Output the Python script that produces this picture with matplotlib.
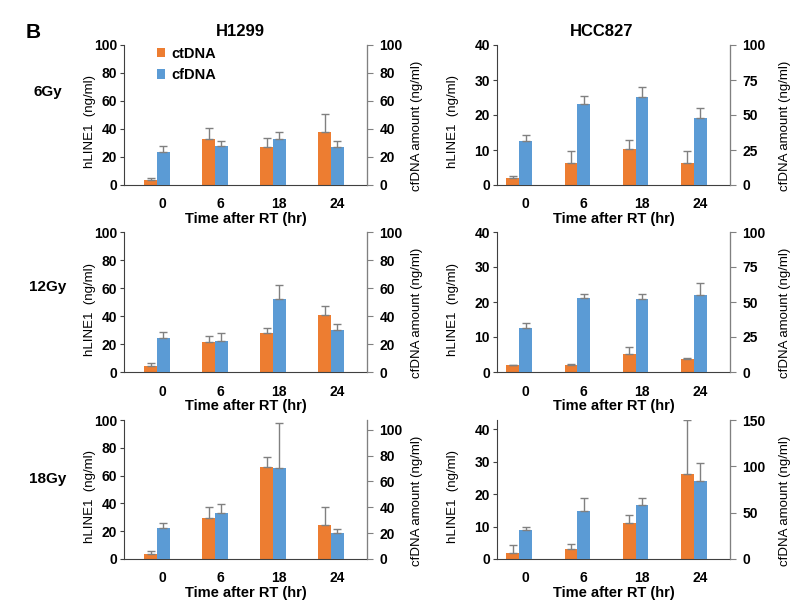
import matplotlib.pyplot as plt
import numpy as np

plt.rcParams['font.family'] = ['Liberation Sans', 'DejaVu Sans']

times = ['0', '6', '18', '24']
cells = ['H1299', 'HCC827']
doses = ['6Gy', '12Gy', '18Gy']

# ctDNA (hLINE1, left axis) and cfDNA (right axis)
h1299_ct = [[3.8, 32.9, 26.9, 37.6], [4.3, 21.4, 27.6, 40.4], [3.8, 29.3, 66.2, 24.5]]
h1299_ct_err = [[1.4, 7.8, 6.7, 13.4], [1.9, 4.0, 3.5, 6.9], [2.2, 8.3, 7.1, 13.1]]
h1299_cf = [[23.8, 28.1, 32.9, 26.9], [24.5, 22.3, 52.5, 29.7], [23.8, 35.7, 70.3, 20.2]]
h1299_cf_err = [[4.3, 3.1, 4.7, 4.3], [4.2, 5.3, 10.0, 4.3], [4.1, 6.9, 35.1, 3.1]]

hcc827_ct = [[2.0, 6.2, 10.2, 6.2], [2.0, 1.9, 5.2, 3.7], [2.0, 3.2, 11.0, 26.2]]
hcc827_ct_err = [[0.6, 3.5, 2.6, 3.4], [0.1, 0.5, 2.0, 0.2], [2.2, 1.5, 2.4, 16.5]]
hcc827_cf = [[31.4, 57.7, 62.7, 47.7], [31.7, 53.1, 51.9, 55.2], [31.8, 51.4, 58.6, 83.9]]
hcc827_cf_err = [[4.0, 6.2, 7.1, 7.2], [3.5, 2.4, 4.0, 8.1], [3.2, 14.0, 6.8, 19.3]]

# axis limits and ticks per panel: (left max, left step, right max, right step)
h1299_lims = [(100, 20, 100, 20), (100, 20, 100, 20), (100, 20, 107.5, 20)]
hcc827_lims = [(40, 10, 100, 25), (40, 10, 100, 25), (42.8, 10, 150, 50)]

orange = '#ED7D31'
blue = '#5B9BD5'
W, H = 808, 613

fig = plt.figure(figsize=(W / 100, H / 100), dpi=100)

# pixel boxes: columns (left, width, xlim) and rows (top, bottom)
cols = [(124, 243, (-0.57, 3.62)), (497, 233, (-0.38, 3.62))]
rows = [(45, 185), (232, 372), (420, 559)]

data = [(h1299_ct, h1299_ct_err, h1299_cf, h1299_cf_err, h1299_lims),
        (hcc827_ct, hcc827_ct_err, hcc827_cf, hcc827_cf_err, hcc827_lims)]

x = np.arange(len(times))
w = 0.22

for c, (x0, wd, xl) in enumerate(cols):
    ct, ct_err, cf, cf_err, lims = data[c]
    for r, (top, bot) in enumerate(rows):
        ax = fig.add_axes([x0 / W, (H - bot) / H, wd / W, (bot - top) / H])
        ax2 = ax.twinx()
        lmax, lstep, rmax, rstep = lims[r]

        b1 = ax.bar(x - w / 2, ct[r], w, color=orange, label='ctDNA',
                    yerr=[[0] * 4, ct_err[r]], ecolor='#808080',
                    error_kw=dict(lw=1, capsize=3, capthick=1))
        b2 = ax2.bar(x + w / 2, cf[r], w, color=blue, label='cfDNA',
                     yerr=[[0] * 4, cf_err[r]], ecolor='#808080',
                     error_kw=dict(lw=1, capsize=3, capthick=1))

        ax.set_xlim(*xl)
        ax.set_ylim(0, lmax)
        ax2.set_ylim(0, rmax)
        ax.set_yticks(np.arange(0, lmax + 0.1, lstep))
        ax2.set_yticks(np.arange(0, min(rmax, 150) + 0.1, rstep))
        ax.set_xticks(x + 0.1)
        ax.set_xticklabels(times)

        for a in (ax, ax2):
            a.spines['top'].set_visible(False)
            a.tick_params(labelsize=10)
            for lab in a.get_yticklabels() + a.get_xticklabels():
                lab.set_fontweight('bold')
        ax.spines['left'].set_color('#404040')
        ax.spines['bottom'].set_color('#404040')
        ax2.spines['right'].set_color('#808080')
        ax2.spines['left'].set_visible(False)
        ax2.spines['bottom'].set_visible(False)
        ax.tick_params(axis='x', length=0, pad=9)
        ax.tick_params(axis='y', length=3, pad=2, color='#404040')
        ax2.tick_params(axis='y', length=4, pad=5, color='#808080')

        ax.set_xlabel('Time after RT (hr)', fontsize=10.5, fontweight='bold')
        ax.xaxis.set_label_coords(0.5, -0.195)
        ax.set_ylabel('hLINE1  (ng/ml)', fontsize=9.5)
        ax2.set_ylabel('cfDNA amount (ng/ml)', fontsize=9.5)
        if c == 0:
            ax.yaxis.set_label_coords(-0.115, 0.45)
            ax2.yaxis.set_label_coords(1.18, 0.42)
        else:
            ax.yaxis.set_label_coords(-0.165, 0.45)
            ax2.yaxis.set_label_coords(1.21, 0.42)

        if c == 0 and r == 0:
            ax.legend([b1, b2], ['ctDNA', 'cfDNA'], loc='upper left',
                      bbox_to_anchor=(0.08, 1.08), frameon=False,
                      handlelength=0.6, handleheight=0.6, handletextpad=0.4,
                      labelspacing=0.5, prop=dict(size=10.5, weight='bold'))

# Panel letter, column titles and dose labels
fig.text(33 / W, 1 - 32 / H, 'B', fontsize=15, fontweight='bold', ha='center', va='center')
fig.text(240 / W, 1 - 32 / H, 'H1299', fontsize=12, fontweight='bold', ha='center', va='center')
fig.text(602 / W, 1 - 32 / H, 'HCC827', fontsize=12, fontweight='bold', ha='center', va='center')
for d, yy in zip(doses, [92, 287, 479]):
    fig.text(48 / W, 1 - yy / H, d, fontsize=11, fontweight='bold', ha='center', va='center')

plt.savefig('out.png', dpi=100)
